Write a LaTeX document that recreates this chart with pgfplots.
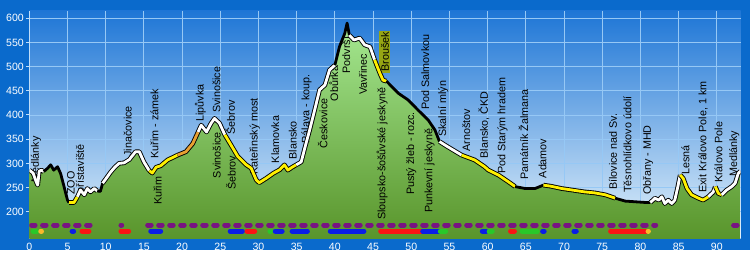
\documentclass[border=0pt]{standalone}
\usepackage{fontspec}
\setmainfont{Liberation Sans}
\usepackage{pgfplots}
\pgfplotsset{compat=1.18}
\usepackage{pgfplotstable}

\definecolor{frame}{RGB}{10,106,204}
\definecolor{skytop}{RGB}{30,118,214}
\definecolor{skybot}{RGB}{228,242,251}
\definecolor{gridc}{RGB}{150,200,245}
\definecolor{gtop}{RGB}{165,232,145}
\definecolor{gbot}{RGB}{88,148,42}
\definecolor{lyel}{RGB}{255,240,0}
\definecolor{lora}{RGB}{232,160,50}
\definecolor{pur}{RGB}{120,20,130}
\definecolor{dblue}{RGB}{10,30,230}
\definecolor{dred}{RGB}{250,20,20}
\definecolor{dgreen}{RGB}{40,200,40}
\definecolor{dora}{RGB}{250,185,40}
\definecolor{olive}{RGB}{150,165,20}

\tikzset{lbl/.style={rotate=90, anchor=west, inner sep=0pt, font=\fontsize{10.8}{12}\selectfont, text=black}}

\pgfplotstableread{
km el
0.0 286
0.5 280
0.9 262
1.1 255
1.3 284
1.6 286
1.9 283
2.4 290
2.8 297
3.2 286
3.7 293
4.1 279
4.5 255
5.0 224
5.2 219
5.85 219
6.3 231
6.7 245
7.2 235
7.6 248
8.0 241
8.5 248
8.9 243
9.3 242
9.6 259
10.2 272
10.7 283
11.2 292
11.75 300
12.4 301
13.1 308
13.9 324
14.4 324
15.0 303
15.7 285
16.1 280
16.6 292
17.2 295
18.1 307
19.4 317
20.5 324
21.4 341
22.1 365
22.5 379
23.2 365
23.8 383
24.25 393
24.9 383
25.6 359
26.4 338
27.3 314
28.4 297
29.05 290
29.7 266
30.1 260
31.0 269
32.0 280
32.8 287
33.4 297
33.85 286
34.4 292
34.95 297
35.6 303
36.0 328
36.7 369
37.35 410
38.0 452
38.7 462
39.3 493
40.0 503
40.6 541
41.3 569
41.6 590
41.9 565
42.5 555
43.25 559
43.9 545
44.6 541
45.2 514
45.9 486
46.3 472
46.75 470
48.3 445
49.6 431
50.9 410
52.2 390
53.1 369
53.7 345
54.8 334
56.6 317
58.3 307
59.6 293
60.1 286
61.4 276
62.7 262
63.6 252
64.9 248
66.2 248
67.3 255
68.2 253
69.7 248
71.0 245
72.7 241
74.0 239
75.4 235
76.7 228
78.0 222
80.8 219
81.3 219
81.9 228
82.4 224
82.8 231
83.2 217
83.65 224
84.1 217
84.5 224
84.9 252
85.2 276
85.6 269
86.1 248
86.7 235
87.6 228
88.2 224
88.9 231
89.55 241
89.8 252
90.2 238
90.65 235
91.3 245
91.95 252
92.4 259
92.8 279
93.1 284
}\profile

\newcommand\seg[3]{%
\addplot[black, line width=4.6bp, line join=round, restrict x to domain=#1:#2] table {\profile};
\addplot[#3, line width=2.8bp, line join=round, restrict x to domain=#1:#2] table {\profile};}
\newcommand\bseg[2]{%
\addplot[black, line width=2.8bp, line join=round, restrict x to domain=#1:#2] table {\profile};}
\newcommand\dseg[3]{%
\addplot[#1, line width=5bp, line cap=round] coordinates {(#2,160) (#3,160)};}

\begin{document}
\begin{tikzpicture}
\fill[frame] (0,0) rectangle (750bp,250bp);
\begin{axis}[
  at={(29.3bp,12bp)}, anchor=south west,
  scale only axis, width=711.2bp, height=227bp,
  xmin=0, xmax=93.1, ymin=145.7, ymax=615,
  axis background/.style={top color=skytop, bottom color=skybot},
  axis y line*=left, axis x line*=bottom,
  x axis line style={draw=none},
  y axis line style={color=gridc!60!white, line width=1bp},
  xtick={0,5,...,90}, ytick={200,250,...,600},
  grid=major, major grid style={color=gridc, line width=0.8bp},
  x tick style={draw=none},
  y tick style={color=gridc!60!white, line width=1bp},
  tick align=outside, major tick length=3bp,
  /pgf/number format/assume math mode=true,
  ticklabel style={font=\fontsize{10.6}{12}\selectfont, text=white},
  xticklabel style={yshift=1bp},
  yticklabel style={xshift=1bp},
]
\addplot[draw=none, top color=gtop, bottom color=gbot] table {\profile} -- (axis cs:93.1,140) -- (axis cs:0,140) -- cycle;

\addplot[pur, line width=5bp, dash pattern=on 3.5bp off 7.5bp, line cap=round] coordinates {(0.3,172.5) (8.4,172.5)};
\addplot[pur, line width=5bp, line cap=round] coordinates {(12.0,172.5) (12.1,172.5)};
\addplot[pur, line width=5bp, dash pattern=on 3.5bp off 7.5bp, line cap=round] coordinates {(15.5,172.5) (82.0,172.5)};
\addplot[pur, line width=5bp, dash pattern=on 3.5bp off 7.5bp, line cap=round] coordinates {(92.2,172.5) (93.0,172.5)};

\dseg{dgreen}{0.5}{1.0}
\dseg{dora}{1.5}{1.6}
\dseg{dblue}{5.6}{5.8}
\dseg{dred}{6.9}{7.8}
\dseg{dred}{12.0}{13.0}
\dseg{dblue}{15.9}{17.2}
\dseg{dblue}{26.3}{27.9}
\dseg{dred}{28.5}{29.5}
\dseg{dgreen}{31.5}{31.6}
\dseg{dblue}{32.2}{33.1}
\dseg{dblue}{34.4}{36.4}
\dseg{dblue}{39.4}{43.8}
\dseg{dred}{46.0}{51.4}
\dseg{dblue}{51.5}{53.6}
\dseg{dgreen}{53.8}{54.5}
\dseg{dblue}{59.3}{59.8}
\dseg{dgreen}{60.2}{60.6}
\dseg{dred}{63.0}{63.5}
\dseg{dgreen}{64.5}{66.5}
\dseg{dblue}{67.2}{67.4}
\dseg{dblue}{71.3}{71.6}
\dseg{dred}{76.1}{80.7}
\dseg{dora}{81.0}{81.05}

\node[lbl] at (axis cs:0.88,260) {Medlánky};
\node[lbl] at (axis cs:5.46,235) {ZOO};
\node[lbl] at (axis cs:6.77,238) {přístaviště};
\node[lbl] at (axis cs:12.9,314) {Jinačovice};
\node[lbl] at (axis cs:16.4,310) {Kuřim - zámek};
\node[lbl] at (axis cs:16.8,214) {Kuřim};
\node[lbl] at (axis cs:22.4,386) {Lipůvka};
\node[lbl] at (axis cs:24.5,404) {Svinošice};
\node[lbl] at (axis cs:26.3,359) {Šebrov};
\node[lbl] at (axis cs:24.55,269) {Svinošice};
\node[lbl] at (axis cs:26.4,245) {Šebrov};
\node[lbl] at (axis cs:29.5,276) {Kateřinský most};
\node[lbl] at (axis cs:32.2,300) {Klamovka};
\node[lbl] at (axis cs:34.5,308) {Blansko};
\node[lbl] at (axis cs:36.3,341) {Pálava - koup.};
\node[lbl] at (axis cs:38.4,331) {Českovice};
\node[lbl] at (axis cs:39.85,428) {Obůrka};
\node[lbl] at (axis cs:41.5,486) {Podvrší};
\node[lbl] at (axis cs:43.7,441) {Vavřinec};
\node[lbl, fill=olive, inner sep=1.5bp] at (axis cs:46.55,486) {Broušek};
\node[lbl] at (axis cs:46.2,183) {Sloupsko-šošůvské jeskyně};
\node[lbl] at (axis cs:50.0,235) {Pustý žleb - rozc.};
\node[lbl] at (axis cs:51.85,410) {Pod Salmovkou};
\node[lbl] at (axis cs:52.4,197) {Punkevní jeskyně};
\node[lbl] at (axis cs:54.2,355) {Skalní mlýn};
\node[lbl] at (axis cs:57.2,324) {Arnoštov};
\node[lbl] at (axis cs:59.5,310) {Blansko, ČKD};
\node[lbl] at (axis cs:61.95,279) {Pod Starým hradem};
\node[lbl] at (axis cs:64.7,266) {Památník Žalmana};
\node[lbl] at (axis cs:67.2,269) {Adamov};
\node[lbl] at (axis cs:76.4,245) {Bílovice nad Sv.};
\node[lbl] at (axis cs:78.3,239) {Těsnohlídkovo údolí};
\node[lbl] at (axis cs:81.0,235) {Obřany - MHD};
\node[lbl] at (axis cs:85.9,276) {Lesná};
\node[lbl] at (axis cs:88.2,239) {Exit Královo Pole, 1 km};
\node[lbl] at (axis cs:90.2,259) {Královo Pole};
\node[lbl] at (axis cs:92.3,272) {Medlánky};

\seg{0}{1.9}{white}
\bseg{1.9}{5.2}
\seg{5.2}{6.3}{lyel}
\seg{6.3}{8.9}{white}
\bseg{8.9}{9.6}
\seg{9.6}{15.7}{white}
\seg{15.7}{19.4}{lyel}
\seg{19.4}{22.1}{lora}
\seg{22.1}{25.6}{white}
\seg{25.6}{34.95}{lyel}
\seg{34.95}{40.0}{white}
\bseg{40.0}{41.9}
\seg{41.9}{45.2}{white}
\seg{45.2}{46.75}{lyel}
\bseg{46.75}{53.7}
\seg{53.7}{56.6}{white}
\seg{56.6}{63.6}{lyel}
\bseg{63.6}{67.3}
\seg{67.3}{76.7}{lyel}
\bseg{76.7}{81.3}
\seg{81.3}{85.2}{white}
\seg{85.2}{88.9}{lyel}
\seg{88.9}{89.8}{white}
\seg{89.8}{90.65}{lyel}
\seg{90.65}{93.1}{white}
\end{axis}
\end{tikzpicture}
\end{document}
